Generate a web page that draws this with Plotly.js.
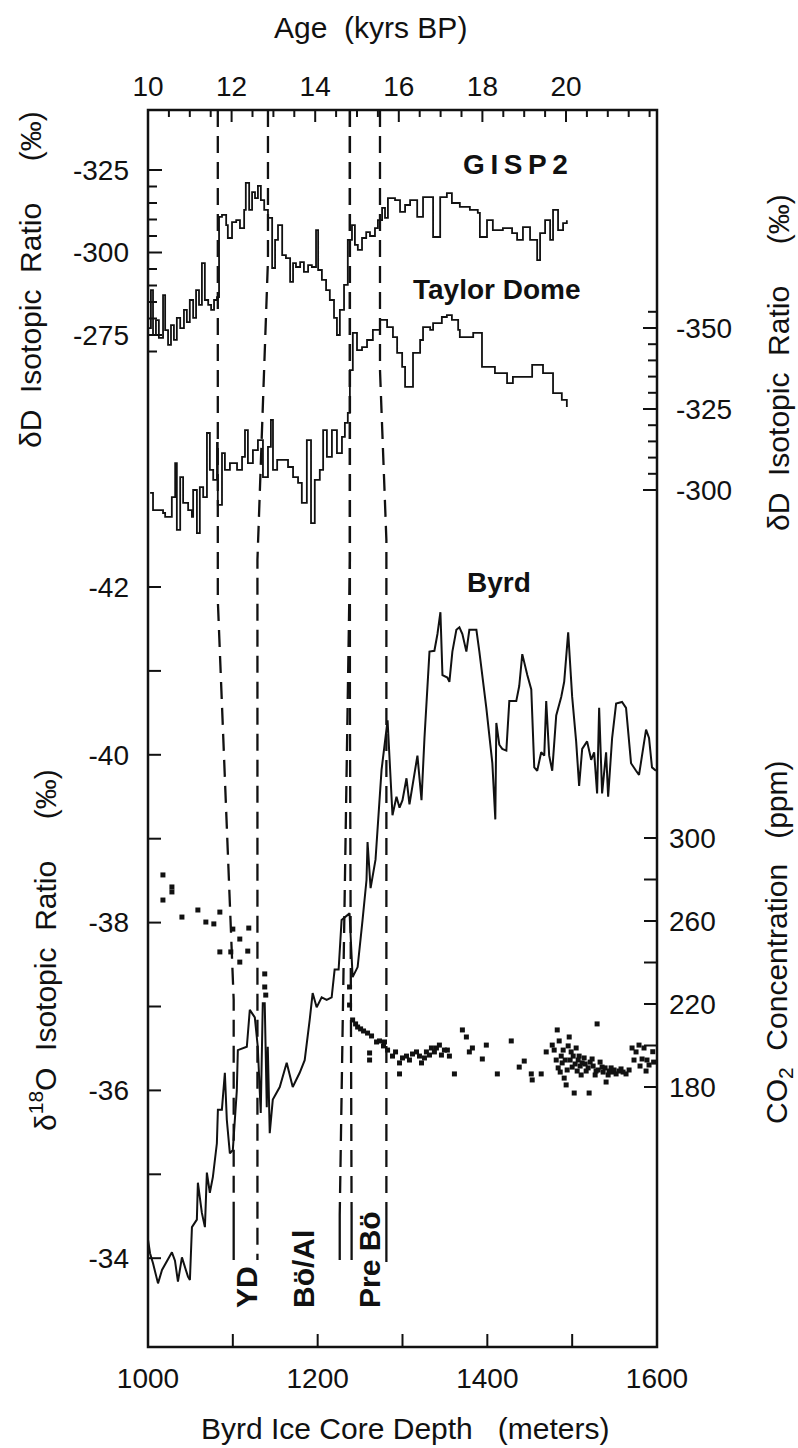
<!DOCTYPE html>
<html><head><meta charset="utf-8">
<script src="https://cdn.plot.ly/plotly-3.0.1.min.js"></script>
<style>html,body{margin:0;padding:0;background:#fff;}#chart{width:798px;height:1448px;}</style>
</head><body><div id="chart"></div>
<script>
// ---------------- DATA ----------------
const gisp2Age = [10.02,10.07,10.12,10.19,10.26,10.36,10.41,10.48,10.55,10.62,10.69,10.77,10.86,10.93,11.00,11.08,11.15,11.22,11.29,11.36,11.44,11.51,11.58,11.65,
11.70,11.77,11.87,11.91,12.01,12.11,12.20,12.30,12.34,12.42,12.49,12.56,12.63,12.70,12.78,12.87,
12.97,13.04,13.11,13.21,13.30,13.40,13.47,13.54,13.64,13.73,13.83,13.92,14.02,14.07,14.16,14.26,14.35,14.45,14.52,14.59,14.69,14.78,
14.88,14.95,15.02,15.12,15.22,15.31,15.43,15.50,15.60,15.67,15.74,15.91,16.03,16.15,16.27,16.44,16.58,16.82,16.99,17.15,17.27,17.46,17.70,17.89,17.94,18.11,18.25,18.49,18.71,18.83,18.97,19.14,19.31,19.38,19.50,19.62,19.69,19.81,19.93,20.02];
const gisp2D = [-277.1,-288.6,-275.0,-279.5,-274.1,-287.1,-276.5,-272.0,-278.0,-273.5,-280.2,-277.1,-282.6,-278.9,-285.6,-280.2,-288.6,-284.1,-296.8,-285.6,-284.1,-282.6,-285.6,-286.5,
-310.8,-311.4,-308.3,-304.4,-309.2,-309.8,-307.4,-312.9,-321.1,-312.9,-318.3,-316.5,-320.2,-315.9,-312.9,-310.5,
-295.3,-303.8,-308.3,-299.2,-298.3,-291.1,-296.8,-295.6,-297.1,-294.1,-296.2,-295.6,-306.8,-294.7,-291.7,-288.6,-285.6,-280.2,-275.0,-282.6,-290.2,-303.8,
-308.3,-302.3,-300.8,-304.4,-306.2,-305.0,-307.4,-309.8,-313.5,-310.5,-316.5,-315.9,-312.3,-314.4,-315.9,-310.8,-316.8,-304.7,-316.8,-318.0,-315.0,-313.8,-312.9,-312.0,-304.7,-309.8,-306.8,-307.4,-305.9,-303.8,-307.7,-303.8,-297.7,-305.9,-309.8,-303.8,-312.9,-306.8,-308.9,-309.8];

const taylorAge = [10.05,10.12,10.36,10.41,10.57,10.65,10.69,10.77,10.84,10.96,11.05,11.08,11.17,11.24,11.32,11.41,11.48,11.56,11.65,11.67,
11.77,11.84,11.96,12.13,12.25,12.32,12.39,12.51,12.63,12.75,12.87,12.94,12.99,13.09,13.23,13.35,13.47,13.59,13.68,13.80,
13.90,13.99,14.11,14.19,14.28,14.40,14.52,14.64,14.71,14.78,14.83,14.90,15.00,15.12,15.24,15.38,15.55,15.72,15.86,15.96,
16.08,16.15,16.32,16.34,16.51,16.58,16.75,16.82,17.03,17.15,17.27,17.42,17.46,17.78,17.94,17.99,18.18,18.30,18.42,18.59,
18.71,18.73,19.09,19.19,19.38,19.45,19.67,19.69,19.86,19.90,20.02];
const taylorD = [-299.1,-293.8,-292.9,-291.7,-297.8,-308.3,-287.7,-304.0,-296.0,-293.8,-291.7,-300.0,-286.7,-300.9,-297.8,-317.6,-306.2,-303.1,-314.5,-295.4,
-311.4,-306.2,-308.3,-306.2,-310.2,-318.5,-308.3,-312.3,-315.4,-304.0,-313.3,-321.6,-306.2,-309.3,-309.3,-307.1,-304.0,-302.2,-296.0,-315.4,
-289.8,-303.1,-306.2,-318.5,-310.2,-318.5,-311.4,-316.4,-320.7,-323.8,-337.0,-348.5,-343.2,-344.1,-346.3,-349.4,-352.5,-350.3,-347.2,-342.3,
-338.0,-331.8,-331.8,-342.3,-346.3,-350.3,-349.4,-351.5,-353.4,-354.0,-352.5,-349.4,-347.2,-348.5,-348.5,-338.0,-338.0,-336.1,-336.1,-333.0,
-333.0,-334.9,-334.9,-338.6,-338.6,-336.1,-336.1,-329.9,-329.9,-327.8,-325.6];

const byrdDepth = [1000,1002.4,1005.9,1011.8,1016.5,1022.4,1028.2,1031.8,1035.3,1040,
1043.5,1047.1,1049.4,1051.8,1057.6,1058.8,1063.5,1067.1,1069.4,1072.9,
1076.5,1081.2,1082.4,1087.1,1090.6,1092.9,1096.5,1100,1104.7,1105.9,
1116.5,1120,1125.9,1129.4,1132.9,1135.3,1137.6,1140,1141.2,1143.5,
1147.1,1155.3,1163.5,1170.6,1178.8,1184.7,1190.6,1194.1,1198.8,1204.7,
1210.6,1216.5,1220,1224.7,1228.2,1237.6,1241.2,1247.1,1252.9,1257.6,
1258.8,1262.4,1268.2,1275.3,1282.4,1287.1,1288.2,1292.9,1296.5,1300,
1304.7,1308.2,1314.1,1317.6,1322.4,1325.9,1331.8,1337.6,1341.2,1344.7,
1347.1,1352.9,1355.3,1358.8,1363.5,1367.1,1370.6,1375.3,1378.8,1387.1,
1390.6,1398.8,1405.9,1409.4,1410.6,1414.1,1417.6,1422.4,1425.9,1434.1,
1437.6,1441.2,1447.1,1451.8,1455.3,1458.8,1463.5,1467.1,1469.4,1472.9,
1476.5,1481.2,1487.1,1490.6,1495.3,1500,1504.7,1508.2,1511.8,1517.6,
1522.4,1525.9,1529.4,1531.8,1535.3,1540,1542.4,1547.1,1551.8,1558.8,
1563.5,1569.4,1575.3,1578.8,1587.1,1590.6,1594.1,1598.8];
const byrdO18 = [-34.22,-34.06,-33.94,-33.70,-33.86,-33.97,-34.07,-33.97,-33.72,-34.01,
-33.89,-33.78,-33.74,-34.37,-34.46,-34.90,-34.54,-34.37,-35.02,-34.78,
-34.97,-35.37,-35.77,-35.77,-36.21,-35.65,-35.25,-35.29,-36.00,-36.48,
-36.52,-36.96,-36.87,-36.52,-35.73,-37.04,-37.04,-35.80,-36.52,-35.49,
-35.89,-36.04,-36.33,-36.04,-36.21,-36.36,-36.84,-37.16,-36.99,-37.11,
-37.08,-37.11,-37.44,-37.44,-38.03,-38.11,-37.35,-37.47,-38.03,-38.51,
-38.96,-38.41,-38.75,-39.82,-40.41,-39.46,-39.28,-39.50,-39.37,-39.46,
-39.72,-39.41,-39.76,-39.99,-39.46,-40.20,-41.23,-41.24,-41.44,-41.70,
-40.95,-40.92,-40.87,-41.23,-41.49,-41.52,-41.44,-41.23,-41.49,-41.49,
-41.23,-40.56,-39.90,-39.23,-40.38,-40.12,-40.07,-40.05,-40.64,-40.64,
-40.82,-41.20,-40.95,-40.78,-39.85,-39.81,-40.03,-39.99,-40.64,-39.99,
-39.81,-40.47,-40.69,-40.87,-41.46,-40.69,-40.16,-39.63,-40.07,-40.16,
-39.94,-40.03,-39.54,-40.56,-39.54,-40.03,-39.50,-40.20,-40.61,-40.63,
-40.56,-39.90,-39.81,-39.76,-40.30,-40.20,-39.85,-39.81];

const co2Depth = [1017.6,1028.2,1028.2,1017.6,1040,1058.8,1068.2,1077.6,1084.7,1100,1108.2,1118.8,1084.7,1097.6,1108.2,1117.6,1137.6,1137.6,1138.8,
1237.6,1237.6,1241.2,1244.7,1247.1,1250.6,1254.1,1258.8,1263.5,1269.4,1278.8,1261.2,1261.2,1272.9,1277.6,1282.4,1288.2,1291.8,1296.5,1296.5,1300,
1304.7,1308.2,1311.8,1316.5,1320,1322.4,1325.9,1328.2,1331.8,1334.1,1337.6,1340,1343.5,1345.9,1349.4,1352.9,1355.3,1361.2,1370.6,1375.3,
1378.8,1382.4,1394.1,1398.8,1411.8,1428.2,1437.6,1443.5,1451.8,1452.9,1463.5,1469.4,1476.5,1478.8,1481.2,1482.4,1483.5,1484.7,1485.9,1487.1,
1488.2,1489.4,1490.6,1491.8,1492.9,1494.1,1495.3,1496.5,1497.6,1498.8,1500,1501.2,1502.4,1503.5,1504.7,1505.9,1507.1,1508.2,1509.4,1510.6,
1511.8,1514.1,1515.3,1516.5,1518.8,1520,1521.2,1523.5,1524.7,1527.1,1528.2,1529.4,1530.6,1532.9,1535.3,1536.5,1538.8,1540,1542.4,1543.5,
1545.9,1547.1,1549.4,1551.8,1555.3,1557.6,1560,1563.5,1567.1,1570.6,1572.9,1575.3,1578.8,1580,1582.4,1584.7,1587.1,1588.2,1590.6,1595,1596];
const co2Ppm = [282.2,276.4,274.0,270.1,261.9,265.3,259.5,258.6,264.3,256.1,251.3,256.6,245.1,245.1,240.2,245.5,234.5,228.2,224.3,
228.2,219.5,212.3,210.4,208.9,208.0,207.0,206.0,204.6,201.7,201.7,196.4,193.0,202.2,199.8,197.8,194.9,196.9,191.6,186.3,194.0,
194.9,193.0,195.9,196.9,194.9,191.6,194.0,196.9,195.4,198.8,196.9,198.8,200.2,195.4,197.8,197.8,194.9,186.3,207.5,204.1,
196.9,198.8,193.5,200.2,186.3,202.2,189.6,192.5,186.3,183.4,186.3,196.9,200.2,197.8,193.0,207.5,189.2,202.2,187.2,194.9,
191.6,197.8,184.3,193.0,181.0,188.2,199.8,204.1,193.0,196.9,189.6,194.9,177.1,191.1,198.8,187.7,193.0,194.9,190.1,185.8,
191.6,194.0,191.1,187.7,189.2,177.1,192.0,193.5,190.1,185.8,187.7,210.4,188.2,192.0,189.6,187.2,189.2,182.4,185.8,187.7,
189.2,187.2,188.2,186.3,187.7,188.7,187.2,186.3,188.2,198.8,193.0,196.9,200.2,190.1,193.5,198.8,187.7,193.0,190.6,197,192];

// Tick values and labels
const depthTicks = [1000,1100,1200,1300,1400,1500,1600];
const depthTickText = ['1000','','1200','','1400','','1600'];
const ageTicks = [10,12,14,16,18,20];
const ageMinor = [10.5,11,11.5,12.5,13,13.5,14.5,15,15.5,16.5,17,17.5,18.5,19,19.5,20.5,21,21.5,22];
const gTicks = [-325,-300,-275];
const gMinor = [-320,-315,-310,-305,-295,-290,-285,-280,-270];
const tTicks = [-350,-325,-300];
const tMinor = [-355,-345,-340,-335,-330,-320,-315,-310,-305];
const bTicks = [-42,-41,-40,-39,-38,-37,-36,-35,-34];
const bTickText = ['-42','','-40','','-38','','-36','','-34'];
const cTicks = [180,200,220,240,260,280,300];
const cTickText = ['180','','220','','260','','300'];

// Event markers (dashed lines): age on top, depth at bottom
const eventAge = [11.67, 12.87, 14.83, 14.83, 15.55];
const eventDepth = [1101, 1129, 1226, 1240, 1281];

// ---------------- LAYOUT ----------------
const FONT = 'Liberation Sans, Arial, Helvetica, sans-serif';
const L = 148, R = 657, T = 110, B = 1347;
const PW = R - L, PH = B - T;
const depthRange = [1000, 1600];
const ageRange = [10, 10 + PW / 41.8];
const gRange = [-325 + (B - 170) / 3.3, -325 - (170 - T) / 3.3];
const tRange = [-350 + (B - 328) / 3.24, -350 - (328 - T) / 3.24];
const bRange = [-42 + (B - 587) / 83.9, -42 - (587 - T) / 83.9];
const cRange = [300 - (B - 838) / 2.075, 300 + (838 - T) / 2.075];

const px = x => (x - L) / PW;
const py = y => (B - y) / PH;
const agePaper = a => (a - ageRange[0]) / (ageRange[1] - ageRange[0]);
const depthPaper = d => (d - depthRange[0]) / (depthRange[1] - depthRange[0]);

const INK = '#111';
const tickFont = {family: FONT, size: 28, color: INK};
function axisBase(extra) {
  return Object.assign({
    showgrid: false, zeroline: false, showline: false, ticks: '',
    tickfont: tickFont, tickmode: 'array', fixedrange: true
  }, extra);
}

const traces = [
  {x: [null], y: [null], xaxis: 'x', yaxis: 'y', type: 'scatter', mode: 'lines', hoverinfo: 'skip', showlegend: false},
  {x: gisp2Age, y: gisp2D, xaxis: 'x2', yaxis: 'y', type: 'scatter', mode: 'lines',
   line: {color: INK, width: 1.8, shape: 'hv'}, hoverinfo: 'skip'},
  {x: taylorAge, y: taylorD, xaxis: 'x2', yaxis: 'y2', type: 'scatter', mode: 'lines',
   line: {color: INK, width: 1.8, shape: 'hv'}, hoverinfo: 'skip'},
  {x: byrdDepth, y: byrdO18, xaxis: 'x', yaxis: 'y3', type: 'scatter', mode: 'lines',
   line: {color: INK, width: 2}, hoverinfo: 'skip'},
  {x: co2Depth, y: co2Ppm, xaxis: 'x', yaxis: 'y4', type: 'scatter', mode: 'markers',
   marker: {color: INK, size: 5, symbol: 'square'}, hoverinfo: 'skip'}
];

const shapes = [];
// inward tick marks placed through each axis' own scale
function yTicks(axRef, vals, len, side) {
  vals.forEach(v => {
    const x0 = side === 'left' ? 0 : 1;
    const x1 = side === 'left' ? len / PW : 1 - len / PW;
    shapes.push({type: 'line', xref: 'paper', yref: axRef, x0: x0, x1: x1, y0: v, y1: v,
      line: {color: INK, width: 2}});
  });
}
function xTicks(axRef, vals, len, side) {
  vals.forEach(v => {
    const y0 = side === 'bottom' ? 0 : 1;
    const y1 = side === 'bottom' ? len / PH : 1 - len / PH;
    shapes.push({type: 'line', xref: axRef, yref: 'paper', x0: v, x1: v, y0: y0, y1: y1,
      line: {color: INK, width: 2}});
  });
}
xTicks('x', depthTicks, 13, 'bottom');
xTicks('x2', ageTicks, 12, 'top');
xTicks('x2', ageMinor, 7, 'top');
yTicks('y', gTicks, 14, 'left');
yTicks('y', gMinor, 9, 'left');
yTicks('y2', tTicks, 14, 'right');
yTicks('y2', tMinor, 9, 'right');
yTicks('y3', bTicks, 13, 'left');
yTicks('y4', cTicks, 13, 'right');

// dashed event lines
const breaks = [[600, 1000], [260, 560], [560, 1215], [700, 1215], [370, 540]];
const dashEnd = [1217, 1260, 1215, 1215, 1215];
const solidSeg = [[1217, 1260], null, [1215, 1260], [1215, 1260], [1215, 1262]];
eventAge.forEach((a, i) => {
  const xa = agePaper(a), xd = depthPaper(eventDepth[i]);
  shapes.push({type: 'path', xref: 'paper', yref: 'paper',
    path: `M ${xa},${py(T)} L ${xa},${py(breaks[i][0])} L ${xd},${py(breaks[i][1])} L ${xd},${py(dashEnd[i])}`,
    line: {color: INK, width: 2.3, dash: '17px,9px'}});
  if (solidSeg[i]) {
    shapes.push({type: 'line', xref: 'paper', yref: 'paper', x0: xd, x1: xd,
      y0: py(solidSeg[i][0]), y1: py(solidSeg[i][1]), line: {color: INK, width: 2.3}});
  }
});
shapes.push({type: 'rect', xref: 'paper', yref: 'paper', x0: 0, x1: 1, y0: 0, y1: 1,
  line: {color: INK, width: 2.5}, layer: 'above'});

function txt(text, x, y, size, angle, bold) {
  return {text: bold ? '<b>' + text + '</b>' : text, xref: 'paper', yref: 'paper',
    x: px(x), y: py(y), xanchor: 'center', yanchor: 'middle', showarrow: false,
    textangle: angle || 0, font: {family: FONT, size: size, color: INK}};
}
const S = '\u00a0';
const annotations = [
  txt('Age' + S + S + '(kyrs' + S + 'BP)', 370, 28, 30),
  txt('Byrd Ice Core Depth' + S + S + S + '(meters)', 405, 1428, 30),
  txt('δD' + S + S + 'Isotopic' + S + S + 'Ratio' + S + S + S + S + S + '(‰)', 31, 280, 30, -90),
  txt('δ<sup>18</sup>O' + S + S + 'Isotopic' + S + S + 'Ratio' + S + S + S + S + S + '(‰)', 43, 950, 30, -90),
  txt('δD' + S + S + 'Isotopic' + S + S + 'Ratio' + S + S + S + S + S + '(‰)', 779, 363, 30, -90),
  txt('CO<sub>2</sub>' + S + S + 'Concentration' + S + S + S + '(ppm)', 778, 943, 30, -90),
  txt('G\u2009I\u2009S\u2009P\u20092', 515, 164, 28, 0, true),
  txt('Taylor' + S + 'Dome', 497, 290, 28, 0, true),
  txt('Byrd', 499, 582, 28, 0, true),
  txt('YD', 246, 1287, 30, -90, true),
  txt('Bö/Al', 303, 1269, 30, -90, true),
  txt('Pre' + S + 'Bö', 369, 1260, 30, -90, true)
];

const layout = {
  width: 798, height: 1448,
  margin: {l: L, r: 798 - R, t: T, b: 1448 - B, pad: 0},
  paper_bgcolor: '#fff', plot_bgcolor: 'rgba(0,0,0,0)',
  showlegend: false,
  font: {family: FONT, color: INK},
  xaxis: axisBase({range: depthRange, tickvals: depthTicks, ticktext: depthTickText, side: 'bottom', anchor: 'y', ticklabelstandoff: 12}),
  xaxis2: axisBase({range: ageRange, tickvals: ageTicks, ticktext: ageTicks.map(String), side: 'top', overlaying: 'x', anchor: 'y', ticklabelstandoff: 7}),
  yaxis: axisBase({range: gRange, tickvals: gTicks, ticktext: gTicks.map(String), side: 'left', anchor: 'x', ticklabelstandoff: 18}),
  yaxis2: axisBase({range: tRange, tickvals: tTicks, ticktext: tTicks.map(String), side: 'right', overlaying: 'y', anchor: 'x', ticklabelstandoff: 18}),
  yaxis3: axisBase({range: bRange, tickvals: bTicks, ticktext: bTickText, side: 'left', overlaying: 'y', anchor: 'x', ticklabelstandoff: 18}),
  yaxis4: axisBase({range: cRange, tickvals: cTicks, ticktext: cTickText, side: 'right', overlaying: 'y', anchor: 'x', ticklabelstandoff: 11}),
  shapes: shapes,
  annotations: annotations
};

Plotly.newPlot('chart', traces, layout, {displayModeBar: false, staticPlot: true});
</script>
</body></html>
